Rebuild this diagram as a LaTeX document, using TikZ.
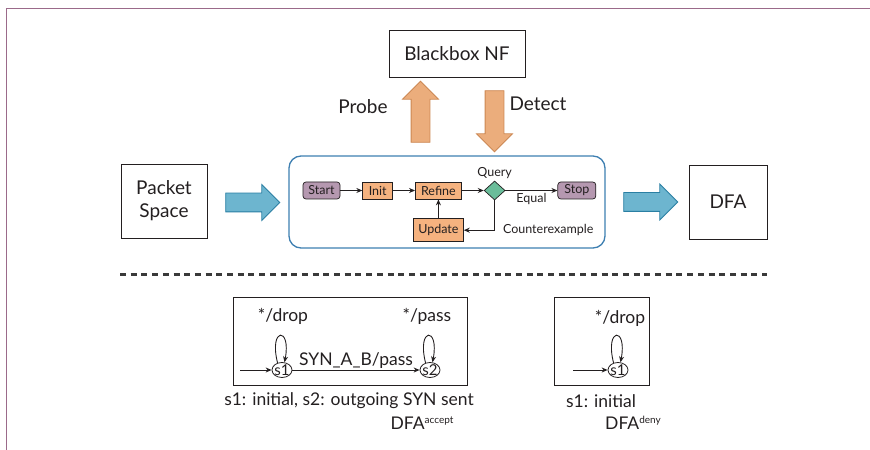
\documentclass[tikz,border=0pt]{standalone}
\usepackage{fontspec}
\setmainfont{Lato}
\usetikzlibrary{arrows.meta, positioning, shapes.geometric, shapes.arrows}
\definecolor{ink}{HTML}{231F20}
\definecolor{frameMauve}{HTML}{9B6A8A}
\definecolor{learnBlue}{HTML}{3E7FB1}
\definecolor{sky}{HTML}{6DB5CF}
\definecolor{skyEdge}{HTML}{2A7FA3}
\definecolor{copper}{HTML}{EBAD7C}
\definecolor{copperEdge}{HTML}{CC8752}
\definecolor{peach}{HTML}{F5B27F}
\definecolor{mauve}{HTML}{B598B0}
\definecolor{mint}{HTML}{6ABD9A}
\definecolor{sepGrey}{HTML}{3A3A3A}
\newcommand{\lblfont}{\fontsize{19bp}{23bp}\selectfont}
\newcommand{\flowfont}{\fontsize{12.5bp}{14bp}\selectfont}
\newcommand{\dfafont}{\fontsize{17.5bp}{21bp}\selectfont}
\newcommand{\dfaname}[1]{DFA\raisebox{6bp}{\fontsize{10bp}{12bp}\selectfont #1}}
\tikzset{
  box/.style={
    rectangle, draw=ink, line width=0.8bp, align=center,
    text=ink, font=\lblfont
  },
  blockarrow/.style={
    single arrow, inner sep=9bp, line width=0.8bp,
    minimum width=35bp, single arrow head extend=8.5bp
  },
  skyarrow/.style={blockarrow, draw=skyEdge, fill=sky},
  copperarrow/.style={blockarrow, draw=copperEdge, fill=copper},
  flowbox/.style={
    rectangle, draw=ink, line width=0.7bp, fill=peach,
    minimum height=17bp, inner sep=1bp, font=\flowfont, text=ink
  },
  termbox/.style={flowbox, fill=mauve, rounded corners=3bp},
  querybox/.style={
    diamond, draw=ink, line width=0.7bp, fill=mint,
    inner sep=0pt, minimum width=21bp, minimum height=19bp
  },
  fsm/.style={
    ellipse, draw=ink, line width=0.8bp, text=ink,
    font=\fontsize{15bp}{17bp}\selectfont,
    inner xsep=0pt, inner ysep=-3bp, text height=11bp, text depth=0bp,
    minimum width=20bp, minimum height=15bp
  },
  fsmframe/.style={draw=ink, line width=0.8bp, inner sep=0pt},
  arr/.style={-{Stealth[length=6bp, width=5bp]}, line width=0.9bp, draw=ink},
  lbl/.style={font=\lblfont, text=ink, inner sep=1bp},
  flowlbl/.style={font=\flowfont, text=ink, inner sep=1bp},
  dfalbl/.style={font=\dfafont, text=ink, inner sep=1bp}
}

\begin{document}
\begin{tikzpicture}[x=1bp, y=-1bp]
\useasboundingbox (0,0) rectangle (870,450);

% ---------------- Frame ----------------
\draw[draw=frameMauve, line width=1.6bp] (6.5,450) -- (6.5,8.5) -- (870,8.5);

% ---------------- Top row ----------------
\node[box, minimum width=136bp, minimum height=47bp] (nf) at (457,53.5) {Blackbox NF};
\node[box, minimum width=86bp, minimum height=74bp] (space) at (164,201) {Packet\\Space};
\node[box, minimum width=78bp, minimum height=74bp] (dfa) at (728,202) {DFA};
\node[draw=learnBlue, line width=1.3bp, rounded corners=12bp,
  minimum width=316bp, minimum height=92bp] (learner) at (447,202) {};

\node[copperarrow, minimum height=61bp, shape border rotate=90] (probe) at (420.5,116.5) {};
\node[copperarrow, minimum height=61bp, shape border rotate=270] (detect) at (494.5,116.5) {};
\node[lbl] (probeLbl) at (363,107) {Probe};
\node[lbl] (detectLbl) at (538,104) {Detect};

\node[skyarrow, minimum height=54bp] (feed) at (248,202.5) {};
\node[skyarrow, minimum height=54bp] (emit) at (646,202) {};

% ---------------- Learning loop ----------------
\node[termbox, minimum width=37bp] (start) at (321.5,190.5) {Start};
\node[flowbox, minimum width=30bp, right=22bp of start] (init) {Init};
\node[flowbox, minimum width=46bp, right=22bp of init] (refine) {Refine};
\node[querybox, right=22bp of refine] (query) {};
\node[termbox, minimum width=38bp, right=52bp of query] (stop) {Stop};
\node[flowbox, minimum width=50bp, minimum height=23bp, below=19bp of refine] (update) {Update};
\node[flowlbl, above=1bp of query] (queryLbl) {Query};

\draw[arr] (start) -- (init);
\draw[arr] (init) -- (refine);
\draw[arr] (refine) -- (query);
\draw[arr] (query) -- node[flowlbl, below=1bp] (equalLbl) {Equal} (stop);
\draw[arr] (query.south) |- node[flowlbl, pos=0.5, right=7bp] (cexLbl) {Counterexample} (update.east);
\draw[arr] (update) -- (refine);

% ---------------- Separator ----------------
\coordinate (sepL) at (120,275);
\coordinate (sepR) at (767,275);
\draw[draw=sepGrey, line width=3bp, dash pattern=on 6bp off 4.7bp] (sepL) -- (sepR);

% ---------------- DFA accept ----------------
\node[fsmframe, minimum width=234bp, minimum height=88bp] (acceptBox) at (350,341) {};
\node[fsm] (a1) at (282,370) {\makebox[0pt]{s1}};
\node[fsm] (a2) at (430,370) {\makebox[0pt]{s2}};
\coordinate (aIn) at (240,370);
\draw[arr] (aIn) -- (a1);
\draw[arr] (a1) -- node[dfalbl, above=0bp] (synLbl) {SYN\_A\_B/pass} (a2);
\draw[arr] (a1.122) .. controls +(-9,-36) and +(7,-36) .. (a1.72);
\draw[arr] (a2.122) .. controls +(-9,-36) and +(7,-36) .. (a2.72);
\node[dfalbl] (dropLbl) at (283,316) {*/drop};
\node[dfalbl] (passLbl) at (427,316) {*/pass};
\node[dfalbl] (acceptCap) at (349,401) {s1: initial, s2: outgoing SYN sent};
\node[dfalbl] (acceptName) at (422,423) {\dfaname{accept}};

% ---------------- DFA deny ----------------
\node[fsmframe, minimum width=95bp, minimum height=88bp] (denyBox) at (601.5,341) {};
\node[fsm] (d1) at (618,370) {\makebox[0pt]{s1}};
\coordinate (dIn) at (573,370);
\draw[arr] (dIn) -- (d1);
\draw[arr] (d1.122) .. controls +(-9,-36) and +(7,-36) .. (d1.72);
\node[dfalbl] (denyDrop) at (620,318) {*/drop};
\node[dfalbl] (denyCap) at (601,401) {s1: initial};
\node[dfalbl] (denyName) at (633,423) {\dfaname{deny}};

\end{tikzpicture}
\end{document}
